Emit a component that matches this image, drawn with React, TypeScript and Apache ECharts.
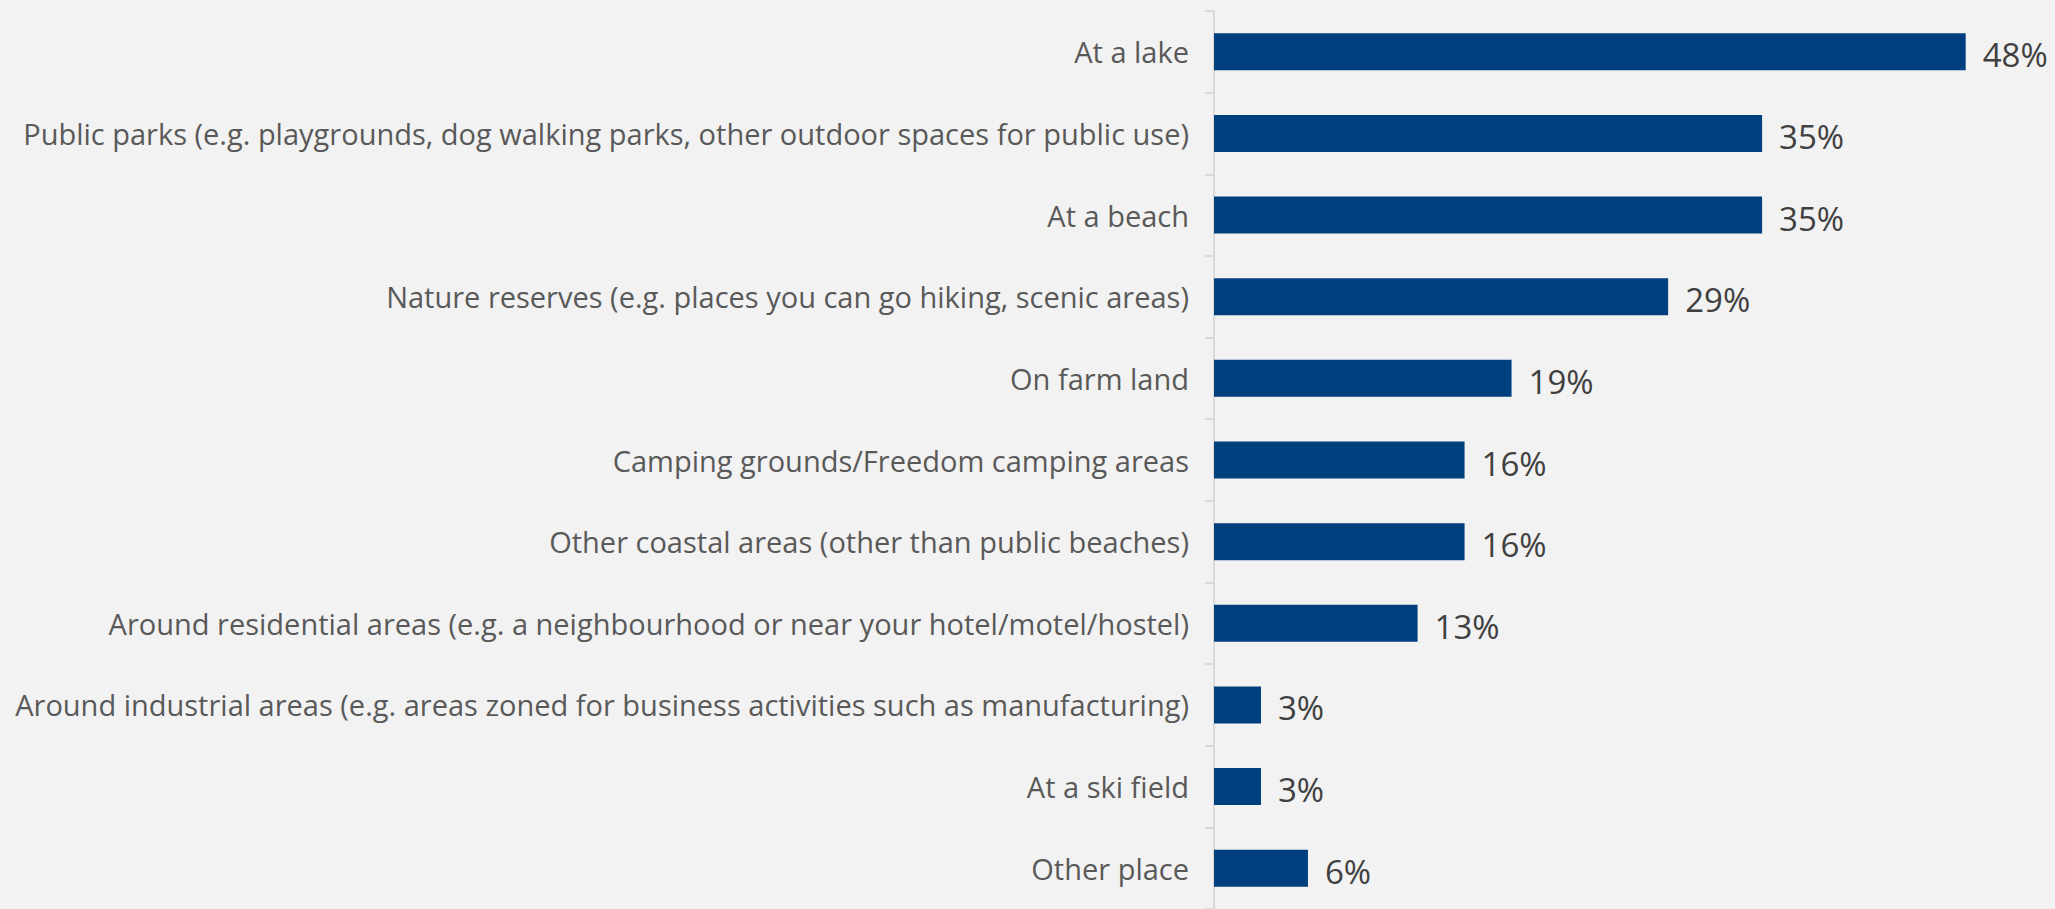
import React, { useEffect, useRef } from "react";
import * as echarts from "echarts";

const categories = [
  "At a lake",
  "Public parks (e.g. playgrounds, dog walking parks, other outdoor spaces for public use)",
  "At a beach",
  "Nature reserves (e.g. places you can go hiking, scenic areas)",
  "On farm land",
  "Camping grounds/Freedom camping areas",
  "Other coastal areas (other than public beaches)",
  "Around residential areas (e.g. a neighbourhood or near your hotel/motel/hostel)",
  "Around industrial areas (e.g. areas zoned for business activities such as manufacturing)",
  "At a ski field",
  "Other place",
];
const values = [48, 35, 35, 29, 19, 16, 16, 13, 3, 3, 6];

export default function App() {
  const ref = useRef<HTMLDivElement>(null);
  useEffect(() => {
    document.body.style.margin = "0";
    const chart = echarts.init(ref.current!, null, { renderer: "svg" });
    chart.setOption({
      animation: false,
      backgroundColor: "#f2f2f2",
      grid: { left: 1214, right: 58, top: 11, bottom: -3, containLabel: false },
      xAxis: { type: "value", min: 0, max: 50, show: false },
      yAxis: {
        type: "category",
        data: categories,
        inverse: true,
        axisLine: { show: true, lineStyle: { color: "#d9d9d9", width: 2 } },
        axisTick: { show: true, length: 9, lineStyle: { color: "#d9d9d9", width: 2 } },
        axisLabel: {
          color: "#595959",
          fontFamily: "Open Sans",
          fontSize: 29,
          margin: 25,
        },
        splitLine: { show: false },
      },
      series: [
        {
          type: "bar",
          data: values,
          barWidth: 37,
          itemStyle: { color: "#003f7d" },
          label: {
            show: true,
            position: "right",
            distance: 17,
            offset: [0, 3],
            formatter: "{c}%",
            color: "#404040",
            fontFamily: "Open Sans",
            fontSize: 33,
          },
        },
      ],
    });
    return () => chart.dispose();
  }, []);
  return <div ref={ref} style={{ width: 2055, height: 909 }} />;
}
